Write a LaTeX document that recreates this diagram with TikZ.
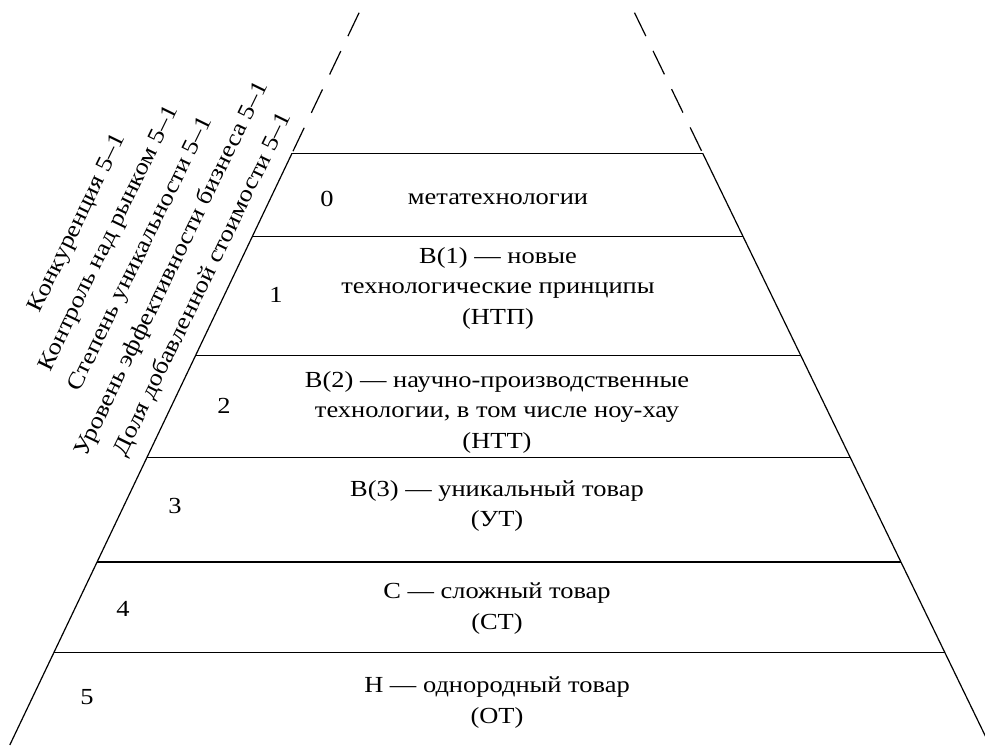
\documentclass[tikz,border=0pt]{standalone}
\usepackage{fontspec}
\setmainfont{Liberation Serif}[FakeStretch=1.15]
\begin{document}
\begin{tikzpicture}[x=1pt,y=-1pt,
  edge/.style={line width=1.2pt},
  sep/.style={line width=1.2pt},
  fade/.style={line width=1.2pt, dash pattern=on 26pt off 16.5pt},
  lbl/.style={font=\fontsize{23}{30.5}\selectfont, align=center, inner sep=0pt},
  num/.style={font=\fontsize{23}{30.5}\selectfont, inner sep=0pt},
  side/.style={font=\fontsize{23}{35}\selectfont, align=center, inner sep=0pt, rotate=64}]
\useasboundingbox (0,0) rectangle (985,745);

% sides of the pyramid
\coordinate (Ltop) at (359.1,12.7);
\coordinate (L0) at (292.0,153.3);
\coordinate (L1) at (252.2,236.7);
\coordinate (L2) at (195.5,355.7);
\coordinate (L3) at (146.8,457.7);
\coordinate (L4) at (97.0,562);
\coordinate (L5) at (53.9,652.5);
\coordinate (Lbot) at (9.8,745);
\coordinate (Rtop) at (634.5,12.7);
\coordinate (R0) at (702.7,153.3);
\coordinate (R1) at (743.1,236.7);
\coordinate (R2) at (800.9,355.7);
\coordinate (R3) at (850.3,457.7);
\coordinate (R4) at (900.9,562);
\coordinate (R5) at (944.8,652.5);
\coordinate (Rbot) at (989.7,745);

\draw[fade] (Ltop) -- (L0);
\draw[fade] (Rtop) -- (R0);
\draw[edge] (L0) -- (Lbot);
\draw[edge] (R0) -- (Rbot);

% level boundaries
\foreach \i in {0,...,5} \draw[sep] (L\i) -- (R\i);

% level numbers
\node[num] (n0) at (327,199) {0};
\node[num] (n1) at (276,295) {1};
\node[num] (n2) at (224,406) {2};
\node[num] (n3) at (175,506) {3};
\node[num] (n4) at (123,609) {4};
\node[num] (n5) at (87,697) {5};

% level descriptions
\node[lbl] (t0) at (498,199) {метатехнологии};
\node[lbl] (t1) at (498,288) {B(1) — новые\\технологические принципы\\(НТП)};
\node[lbl] (t2) at (497,412) {B(2) — научно-производственные\\технологии, в том числе ноу-хау\\(НТТ)};
\node[lbl] (t3) at (497,506) {B(3) — уникальный товар\\(УТ)};
\node[lbl] (t4) at (497,608.5) {С — сложный товар\\(СТ)};
\node[lbl] (t5) at (497,702.5) {Н — однородный товар\\(ОТ)};

% indicators along the left side
\node[side] (ind) at (141,254) {Конкуренция 5–1\\Контроль над рынком 5–1\\Степень уникальности 5–1\\Уровень эффективности бизнеса 5–1\\Доля добавленной стоимости 5–1};
\end{tikzpicture}
\end{document}
